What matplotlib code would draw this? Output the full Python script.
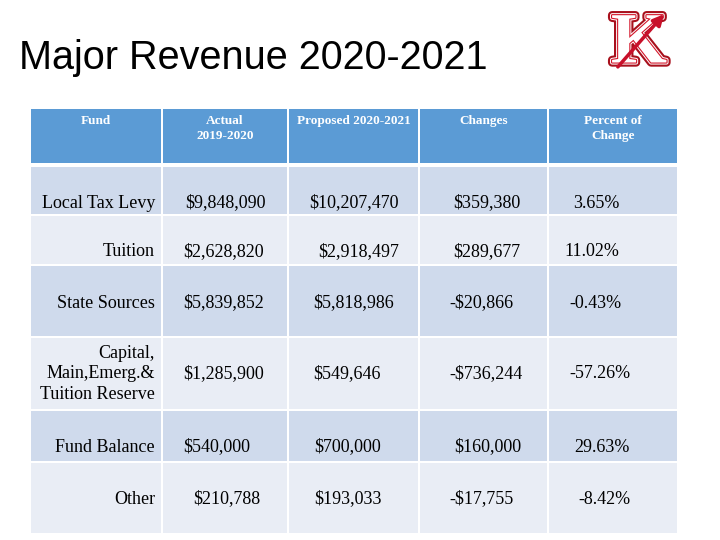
import matplotlib
matplotlib.use('Agg')
import matplotlib.pyplot as plt
from matplotlib.patches import Rectangle
import matplotlib.patheffects as pe

# table data
funds = ['Local Tax Levy', 'Tuition', 'State Sources',
         'Capital,\nMain,Emerg.&\nTuition Reserve', 'Fund Balance', 'Other']
actual = [9848090, 2628820, 5839852, 1285900, 540000, 210788]
proposed = [10207470, 2918497, 5818986, 549646, 700000, 193033]
changes = [359380, 289677, -20866, -736244, 160000, -17755]
percent = [3.65, 11.02, -0.43, -57.26, 29.63, -8.42]
headers = ['Fund', 'Actual\n2019-2020', 'Proposed 2020-2021', 'Changes', 'Percent of\nChange']


def money(v):
    if v < 0:
        return '-${:,}'.format(-v)
    return '${:,}'.format(v)


# layout in pixels (figure is 720x540)
col_x = [(31, 161), (163, 287), (289, 418), (420, 547), (549, 677)]
head_y = (109, 163)
row_y = [(167, 214), (216, 264), (266, 336), (338, 409), (411, 461), (463, 533)]
text_y = [203, 252, 303, 374, 447, 499]
# left edge of each value column, per row (the slide is not perfectly aligned)
val_x = [
    [185, 183, 183, 183, 183, 193],
    [309, 318, 313, 313, 314, 314],
    [453, 453, 449, 449, 454, 449],
    [573, 564, 569, 569, 574, 578],
]

head_col = '#5B9BD5'
row_cols = ['#CFDAEC', '#E9EDF5']
serif = 'Liberation Serif'

fig = plt.figure(figsize=(7.2, 5.4), dpi=100)
ax = fig.add_axes([0, 0, 1, 1])
ax.set_xlim(0, 720)
ax.set_ylim(540, 0)
ax.axis('off')

ax.text(19, 58, 'Major Revenue 2020-2021', fontsize=28.5, fontfamily='Liberation Sans',
        ha='left', va='center', color='black')

# header cells
for (x0, x1), h in zip(col_x, headers):
    ax.add_patch(Rectangle((x0, head_y[0]), x1 - x0, head_y[1] - head_y[0],
                           facecolor=head_col, edgecolor='none'))
    ax.text((x0 + x1) / 2, head_y[0] + 6, h, fontsize=9.5, fontfamily=serif,
            fontweight='bold', color='white', ha='center', va='top', linespacing=1.3)

# body cells
for i, (y0, y1) in enumerate(row_y):
    for x0, x1 in col_x:
        ax.add_patch(Rectangle((x0, y0), x1 - x0, y1 - y0,
                               facecolor=row_cols[i % 2], edgecolor='none'))
    ax.text(155, text_y[i], funds[i], fontsize=13, fontfamily=serif,
            ha='right', va='center', multialignment='right', linespacing=1.25)
    vals = [money(actual[i]), money(proposed[i]), money(changes[i]),
            '{:.2f}%'.format(percent[i])]
    for j, s in enumerate(vals):
        ax.text(val_x[j][i], text_y[i], s, fontsize=13, fontfamily=serif,
                ha='left', va='center')

# school logo (rough): outlined K with an arrow
ax.text(639, 45, 'K', fontsize=52, fontfamily=serif, fontweight='bold', color='white',
        ha='center', va='center',
        path_effects=[pe.Stroke(linewidth=6, foreground='#A8101C'),
                      pe.Stroke(linewidth=3, foreground='white'),
                      pe.Stroke(linewidth=1.6, foreground='#D4162A'),
                      pe.Normal()])
ax.annotate('', xy=(666, 12), xytext=(616, 69),
            arrowprops=dict(arrowstyle='-|>', color='#C8102A', lw=2.5, mutation_scale=16))

fig.savefig('out.png', dpi=100)
